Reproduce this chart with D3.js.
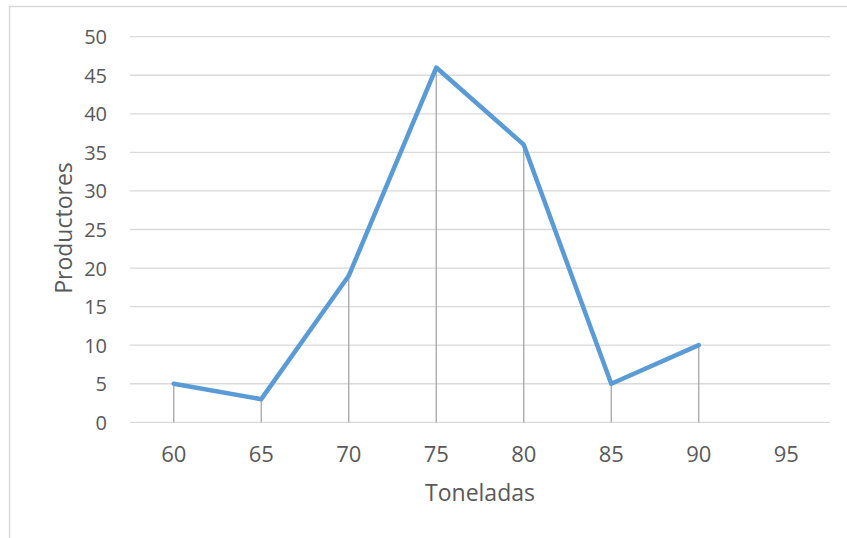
<!DOCTYPE html>
<html><head><meta charset="utf-8">
<script src="https://cdn.jsdelivr.net/npm/d3@7"></script>
<style>body{margin:0;background:#fff}svg{display:block}text{font-family:"Open Sans",sans-serif;fill:#595959}</style>
</head><body><svg id="c" width="847" height="538"></svg>
<script>
const categories = ["60","65","70","75","80","85","90","95"];
const values = [5,3,19,46,36,5,10,null];
const yTicks = [0,5,10,15,20,25,30,35,40,45,50];
const xTitle = "Toneladas";
const yTitle = "Productores";

const svg = d3.select("#c");
const L=130,R=830,T=36.7,B=422.3;
svg.append("rect").attr("x",9.5).attr("y",6.5).attr("width",860).attr("height",560)
  .attr("fill","#fff").attr("stroke","#d9d9d9").attr("stroke-width",1.5);

const x = d3.scaleBand().domain(categories).range([L,R]);
const y = d3.scaleLinear().domain([0,50]).range([B,T]);

svg.append("g").selectAll("line").data(yTicks).join("line")
  .attr("x1",L).attr("x2",R).attr("y1",d=>y(d)).attr("y2",d=>y(d))
  .attr("stroke","#d9d9d9").attr("stroke-width",1.3);

const yAxis = d3.axisLeft(y).tickValues(yTicks).tickSize(0).tickPadding(0);
const gy = svg.append("g").attr("transform","translate(107,0)").call(yAxis);
gy.select(".domain").remove();
gy.selectAll("text").style("font-size","20px").style("font-family","'Open Sans',sans-serif").attr("dy","0.35em").attr("fill","#595959");

const xAxis = d3.axisBottom(x).tickSize(0).tickPadding(0);
const gx = svg.append("g").attr("transform","translate(0,446)").call(xAxis);
gx.select(".domain").remove();
gx.selectAll("text").style("font-size","22px").style("font-family","'Open Sans',sans-serif").attr("dy","0.71em").attr("fill","#595959");

const pts = categories.map((c,i)=>({c,v:values[i]})).filter(d=>d.v!=null);
const cx = d=>x(d.c)+x.bandwidth()/2;

svg.append("g").selectAll("line").data(pts).join("line")
  .attr("x1",cx).attr("x2",cx).attr("y1",d=>y(d.v)).attr("y2",B)
  .attr("stroke","#a6a6a6").attr("stroke-width",1.3);

svg.append("path").datum(pts)
  .attr("d",d3.line().x(cx).y(d=>y(d.v)))
  .attr("fill","none").attr("stroke","#5b9bd5").attr("stroke-width",4.5)
  .attr("stroke-linejoin","round").attr("stroke-linecap","round");

svg.append("text").attr("x",(L+R)/2).attr("y",501).attr("text-anchor","middle")
  .style("font-size","23px").text(xTitle);
svg.append("text").attr("transform","translate(72,228) rotate(-90)").attr("text-anchor","middle")
  .style("font-size","23px").text(yTitle);
</script></body></html>
